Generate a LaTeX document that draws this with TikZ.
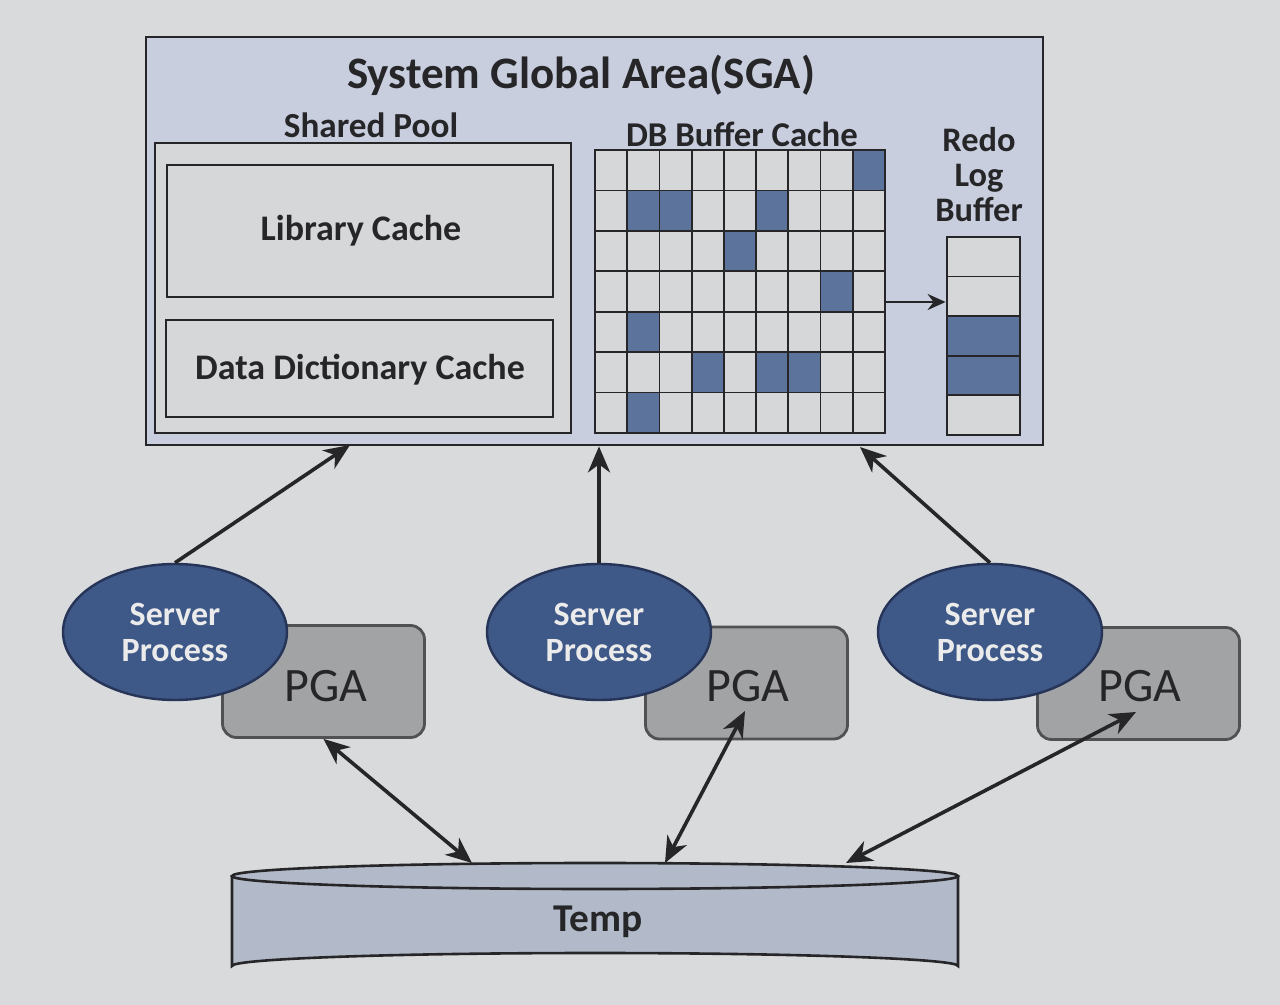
\documentclass[tikz,border=0pt]{standalone}
\usepackage{fontspec}
\setmainfont{Carlito}
\usetikzlibrary{arrows.meta,shapes.geometric}
\definecolor{pagebg}{RGB}{216,218,220}
\definecolor{sgafill}{RGB}{200,206,222}
\definecolor{cellfill}{RGB}{214,215,217}
\definecolor{cellblue}{RGB}{92,116,156}
\definecolor{spfill}{RGB}{62,88,135}
\definecolor{spline}{RGB}{38,52,88}
\definecolor{pgafill}{RGB}{162,163,165}
\definecolor{tempfill}{RGB}{178,186,202}
\definecolor{ink}{RGB}{38,38,40}
\tikzset{
  boxline/.style={draw=ink, line width=1.4pt},
  lbl/.style={text=ink, font=\bfseries\fontsize{18}{20}\selectfont, inner sep=0pt},
  arr/.style={draw=ink, line width=1.8pt, -{Stealth[length=13pt,width=11pt,inset=4pt]}},
  darr/.style={draw=ink, line width=1.8pt, {Stealth[length=13pt,width=11pt,inset=4pt]}-{Stealth[length=13pt,width=11pt,inset=4pt]}},
  sproc/.style={ellipse, draw=spline, line width=1.2pt, fill=spfill, text=white!92!black,
    minimum width=112pt, minimum height=68pt, inner sep=0pt, align=center,
    font=\bfseries\fontsize{17}{19}\selectfont},
  pga/.style={rectangle, rounded corners=7pt, draw=ink!80, line width=1.4pt, fill=pgafill,
    minimum width=101pt, minimum height=56pt, inner sep=0pt},
  pgatext/.style={text=ink, font=\fontsize{24}{26}\selectfont, inner sep=0pt}
}
\begin{document}
\begin{tikzpicture}[x=0.5pt,y=-0.5pt]
\useasboundingbox (0,0) rectangle (1280,1005);
\fill[pagebg] (0,0) rectangle (1280,1005);

% SGA
\node[boxline, fill=sgafill, rectangle, minimum width=448.5pt, minimum height=204pt, inner sep=0pt] (sga) at (594.5,241) {};
\node[lbl, font=\bfseries\fontsize{22.5}{25}\selectfont] (sgat) at (581,75) {System Global Area(SGA)};
\node[lbl, font=\bfseries\fontsize{17.6}{20}\selectfont] (spt) at (371,125) {Shared Pool};
\node[boxline, fill=cellfill, rectangle, minimum width=208pt, minimum height=145pt, inner sep=0pt] (sp) at (363,288) {};
\node[boxline, fill=cellfill, rectangle, minimum width=193pt, minimum height=66pt, inner sep=0pt] (lib) at (360,231) {};
\node[lbl] at (361,231) {Library Cache};
\node[boxline, fill=cellfill, rectangle, minimum width=193.5pt, minimum height=48.5pt, inner sep=0pt] (dd) at (359.5,368.5) {};
\node[lbl] at (360,370) {Data Dictionary Cache};

% DB buffer cache grid
\node[lbl, font=\bfseries\fontsize{17.4}{20}\selectfont] (dbt) at (742,134) {DB Buffer Cache};
\fill[cellfill] (595,150) rectangle (885,433);
\foreach \r/\c in {0/8,1/1,1/2,1/5,2/4,3/7,4/1,5/3,5/5,5/6,6/1}
  \fill[cellblue] ({595+\c*290/9},{150+\r*283/7}) rectangle ({595+(\c+1)*290/9},{150+(\r+1)*283/7});
\foreach \i in {1,...,8} \draw[ink, line width=0.9pt] ({595+\i*290/9},150) -- ({595+\i*290/9},433);
\foreach \i in {1,...,6} \draw[ink, line width=0.9pt] (595,{150+\i*283/7}) -- (885,{150+\i*283/7});
\node[boxline, rectangle, minimum width=145pt, minimum height=141.5pt, inner sep=0pt] (grid) at (740,291.5) {};

% Redo log buffer
\node[lbl, align=center, font=\bfseries\fontsize{17.2}{17.5}\selectfont] (redot) at (979,175) {Redo\\Log\\Buffer};
\fill[cellfill] (947,237) rectangle (1020,435);
\fill[cellblue] (947,{237+2*198/5}) rectangle (1020,{237+4*198/5});
\foreach \i in {1,...,4} \draw[ink, line width=0.9pt] (947,{237+\i*198/5}) -- (1020,{237+\i*198/5});
\node[boxline, rectangle, minimum width=36.5pt, minimum height=99pt, inner sep=0pt] (redo) at (983.5,336) {};
\draw[arr, line width=1.2pt, -{Stealth[length=9pt,width=8pt,inset=3pt]}] (grid.east |- 0,302) -- (redo.west |- 0,302);

% PGA boxes and server processes
\node[pga] (pga1) at (323.5,681.5) {};
\node[pgatext] at (326,686) {PGA};
\node[pga] (pga2) at (746.5,683) {};
\node[pgatext] at (748,686) {PGA};
\node[pga] (pga3) at (1138.5,683.5) {};
\node[pgatext] at (1140,686) {PGA};

\node[sproc] (sp1) at (175,632) {Server\\[-1pt]Process};
\node[sproc] (sp2) at (599,632) {Server\\[-1pt]Process};
\node[sproc] (sp3) at (990,632) {Server\\[-1pt]Process};

% Temp cylinder
\fill[tempfill] (232,876) -- (232,966) arc[start angle=180,end angle=360,x radius=363,y radius=13] -- (958,876) -- cycle;
\fill[tempfill] (595,876) ellipse[x radius=363, y radius=13];
\draw[ink, line width=1.3pt] (232,876) -- (232,966) arc[start angle=180,end angle=360,x radius=363,y radius=13] -- (958,876);
\draw[ink, line width=1.3pt] (595,876) ellipse[x radius=363, y radius=13];
\node[lbl, font=\bfseries\fontsize{19.7}{21}\selectfont] (temp) at (598,922) {Temp};
\coordinate (t1) at (472,863);
\coordinate (t2) at (665,863);
\coordinate (t3) at (846,863);

% connectors
\draw[arr] (sp1.north) -- (350,445);
\draw[arr] (sp2.north) -- (sp2.north |- sga.south);
\draw[arr] (sp3.north) -- (860,447);
\draw[darr] (pga1.south) -- (t1);
\draw[darr] (745,711) -- (t2);
\draw[darr] (1136,712) -- (t3);
\end{tikzpicture}
\end{document}
